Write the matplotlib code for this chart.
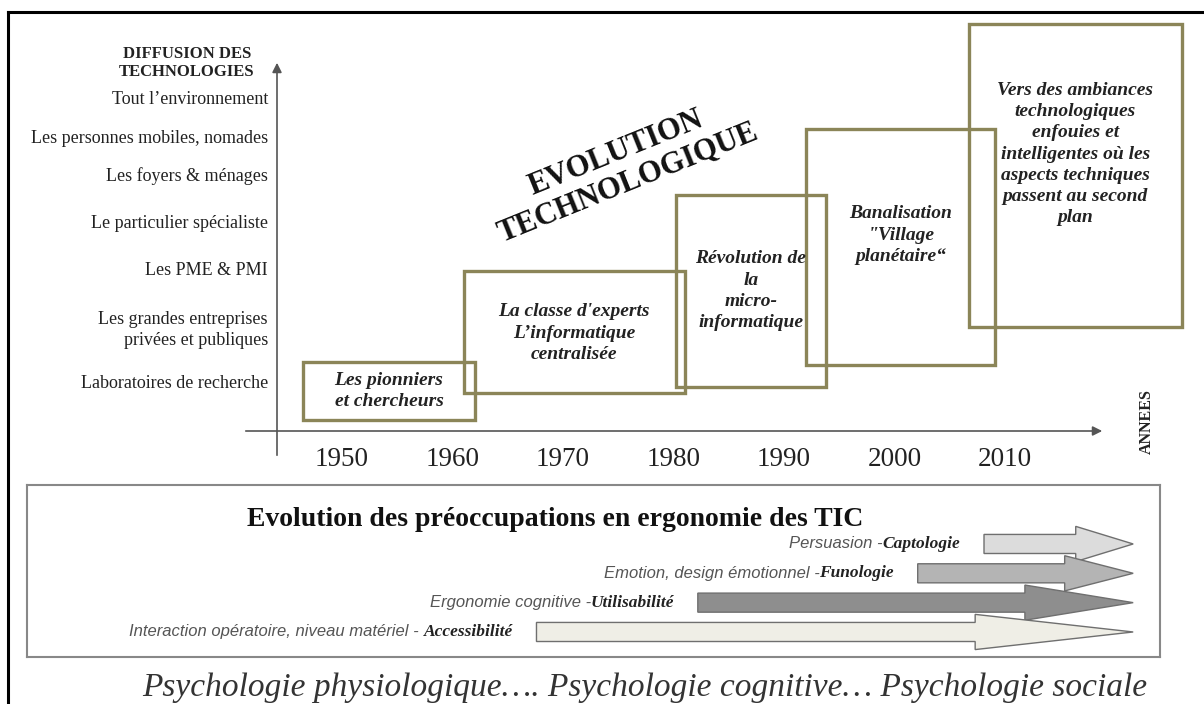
import matplotlib
matplotlib.use("Agg")
import matplotlib.pyplot as plt
from matplotlib.patches import Rectangle, FancyArrow
from matplotlib.lines import Line2D

# 縦軸: 技術の普及レベル
level_labels = ["Laboratoires de recherche",
                "Les grandes entreprises\nprivées et publiques",
                "Les PME & PMI",
                "Le particulier spécialiste",
                "Les foyers & ménages",
                "Les personnes mobiles, nomades",
                "Tout l’environnement"]
level_values = [1.0, 2.1, 3.35, 4.33, 5.31, 6.1, 6.9]

# 横軸: 年
years = [1950, 1960, 1970, 1980, 1990, 2000, 2010]

# 時代ごとの枠 (開始年, 終了年, 下限レベル, 上限レベル)
era_labels = ["Les pionniers\net chercheurs",
              "La classe d'experts\nL’informatique\ncentralisée",
              "Révolution de\nla\nmicro-\ninformatique",
              "Banalisation\n\"Village\nplanétaire“",
              "Vers des ambiances\ntechnologiques\nenfouies et\nintelligentes où les\naspects techniques\npassent au second\nplan"]
era_start = [1946.5, 1961.0, 1980.2, 1992.0, 2006.7]
era_end = [1962.0, 1981.0, 1993.8, 2009.1, 2026.0]
era_low = [0.23, 0.79, 0.92, 1.38, 2.17]
era_high = [1.44, 3.33, 4.92, 6.29, 8.48]
era_text_level = [0.83, 2.04, 2.92, 4.08, 5.77]

# 下段: エルゴノミクスの関心 (開始年, 矢じり開始年, 先端年)
concern_text = ["Interaction opératoire, niveau matériel - ",
                "Ergonomie cognitive -",
                "Emotion, design émotionnel -",
                "Persuasion -"]
concern_bold = ["Accessibilité", "Utilisabilité", "Funologie", "Captologie"]
concern_start = [1967.6, 1982.2, 2002.1, 2008.1]
concern_head = [2007.3, 2011.8, 2015.4, 2016.4]
concern_tip = [2021.6, 2021.6, 2021.6, 2021.6]
concern_colors = ["#efeee6", "#8e8e8e", "#b4b4b4", "#dcdcdc"]

W, H = 1204, 704
PX0, PXY = 342.0, 11.05      # 1950年の位置 と 1年あたりのピクセル
PY0, PYL = 431.0, 48.0       # 横軸の位置 と 1レベルあたりのピクセル

def yr(px):
    return 1950 + (px - PX0) / PXY

def lv(py):
    return (PY0 - py) / PYL

serif = "Liberation Serif"
box_col = "#8b8558"

fig = plt.figure(figsize=(W / 100, H / 100), dpi=100)
ax = fig.add_axes([0, 0, 1, 1])
ax.set_xlim(yr(0), yr(W))
ax.set_ylim(lv(H), lv(0))
ax.axis("off")

# 外枠 (上と左) --- (*1)
fig.add_artist(Line2D([8 / W, 1], [1 - 12 / H, 1 - 12 / H], transform=fig.transFigure, color="black", lw=2.2))
fig.add_artist(Line2D([8 / W, 8 / W], [0, 1 - 12 / H], transform=fig.transFigure, color="black", lw=2.2))

# 軸の矢印 --- (*2)
ax.annotate("", xy=(yr(1105), 0), xytext=(yr(243), 0),
            arrowprops=dict(arrowstyle="-|>", color="#555555", lw=1.2, mutation_scale=14))
ax.annotate("", xy=(yr(277), lv(60)), xytext=(yr(277), lv(458)),
            arrowprops=dict(arrowstyle="-|>", color="#555555", lw=1.2, mutation_scale=14))

for y in years:
    ax.text(y, lv(460), str(y), ha="center", va="center", fontsize=19.5, family=serif, color="#222222")

for lab, v in zip(level_labels, level_values):
    ax.text(yr(268), v, lab, ha="right", va="center", fontsize=13, family=serif,
            color="#222222", linespacing=1.3, multialignment="right")

ax.text(yr(187), lv(63), "DIFFUSION DES\nTECHNOLOGIES", ha="center", va="center", fontsize=12,
        family=serif, weight="bold", color="#222222", linespacing=1.25)
ax.text(yr(1147), lv(422), "ANNEES", ha="center", va="center", rotation=90, fontsize=11.5,
        family=serif, weight="bold", color="#222222")
ax.text(yr(622), lv(168), "EVOLUTION\nTECHNOLOGIQUE", ha="center", va="center", rotation=22,
        fontsize=22, family=serif, weight="bold", color="#111111", linespacing=1.15)

# 時代の枠 --- (*3)
for lab, x0, x1, y0, y1, ty in zip(era_labels, era_start, era_end, era_low, era_high, era_text_level):
    ax.add_patch(Rectangle((x0, y0), x1 - x0, y1 - y0, fill=False, edgecolor=box_col, lw=2.4, zorder=3))
    ax.text((x0 + x1) / 2, ty, lab, ha="center", va="center", fontsize=14, family=serif,
            weight="bold", style="italic", color="#222222", linespacing=1.33, zorder=4)

# 下段のパネル --- (*4)
bx = fig.add_axes([27 / W, (H - 657) / H, (1160 - 27) / W, (657 - 485) / H])
bx.set_xlim(yr(27), yr(1160))
bx.set_ylim(-0.853, 5.01)
bx.set_xticks([])
bx.set_yticks([])
for s in bx.spines.values():
    s.set_color("#888888")
    s.set_linewidth(1.5)

bx.text(yr(555), 3.82, "Evolution des préoccupations en ergonomie des TIC", ha="center", va="center",
        fontsize=20, family=serif, weight="bold", color="#111111")

for i in range(len(concern_text)):
    x0, xh, xt = concern_start[i], concern_head[i], concern_tip[i]
    bx.add_patch(FancyArrow(x0, i, xt - x0, 0, width=0.65, head_width=1.2, head_length=xt - xh,
                            length_includes_head=True, facecolor=concern_colors[i],
                            edgecolor="#6f6f6f", lw=1.0, zorder=10 - i))
    b = bx.annotate(concern_bold[i], xy=(x0, i), xytext=(-17, 0), textcoords="offset points",
                    ha="right", va="center", fontsize=12.5, family=serif, weight="bold",
                    style="italic", color="#222222")
    bx.annotate(concern_text[i], xy=(0, 0.5), xycoords=b, ha="right", va="center",
                fontsize=12, family="Liberation Sans", style="italic", color="#555555")

ax.text(yr(645), lv(688), "Psychologie physiologique…. Psychologie cognitive… Psychologie sociale",
        ha="center", va="center", fontsize=24, family=serif, style="italic", color="#333333")

fig.savefig("out.png", dpi=100)
